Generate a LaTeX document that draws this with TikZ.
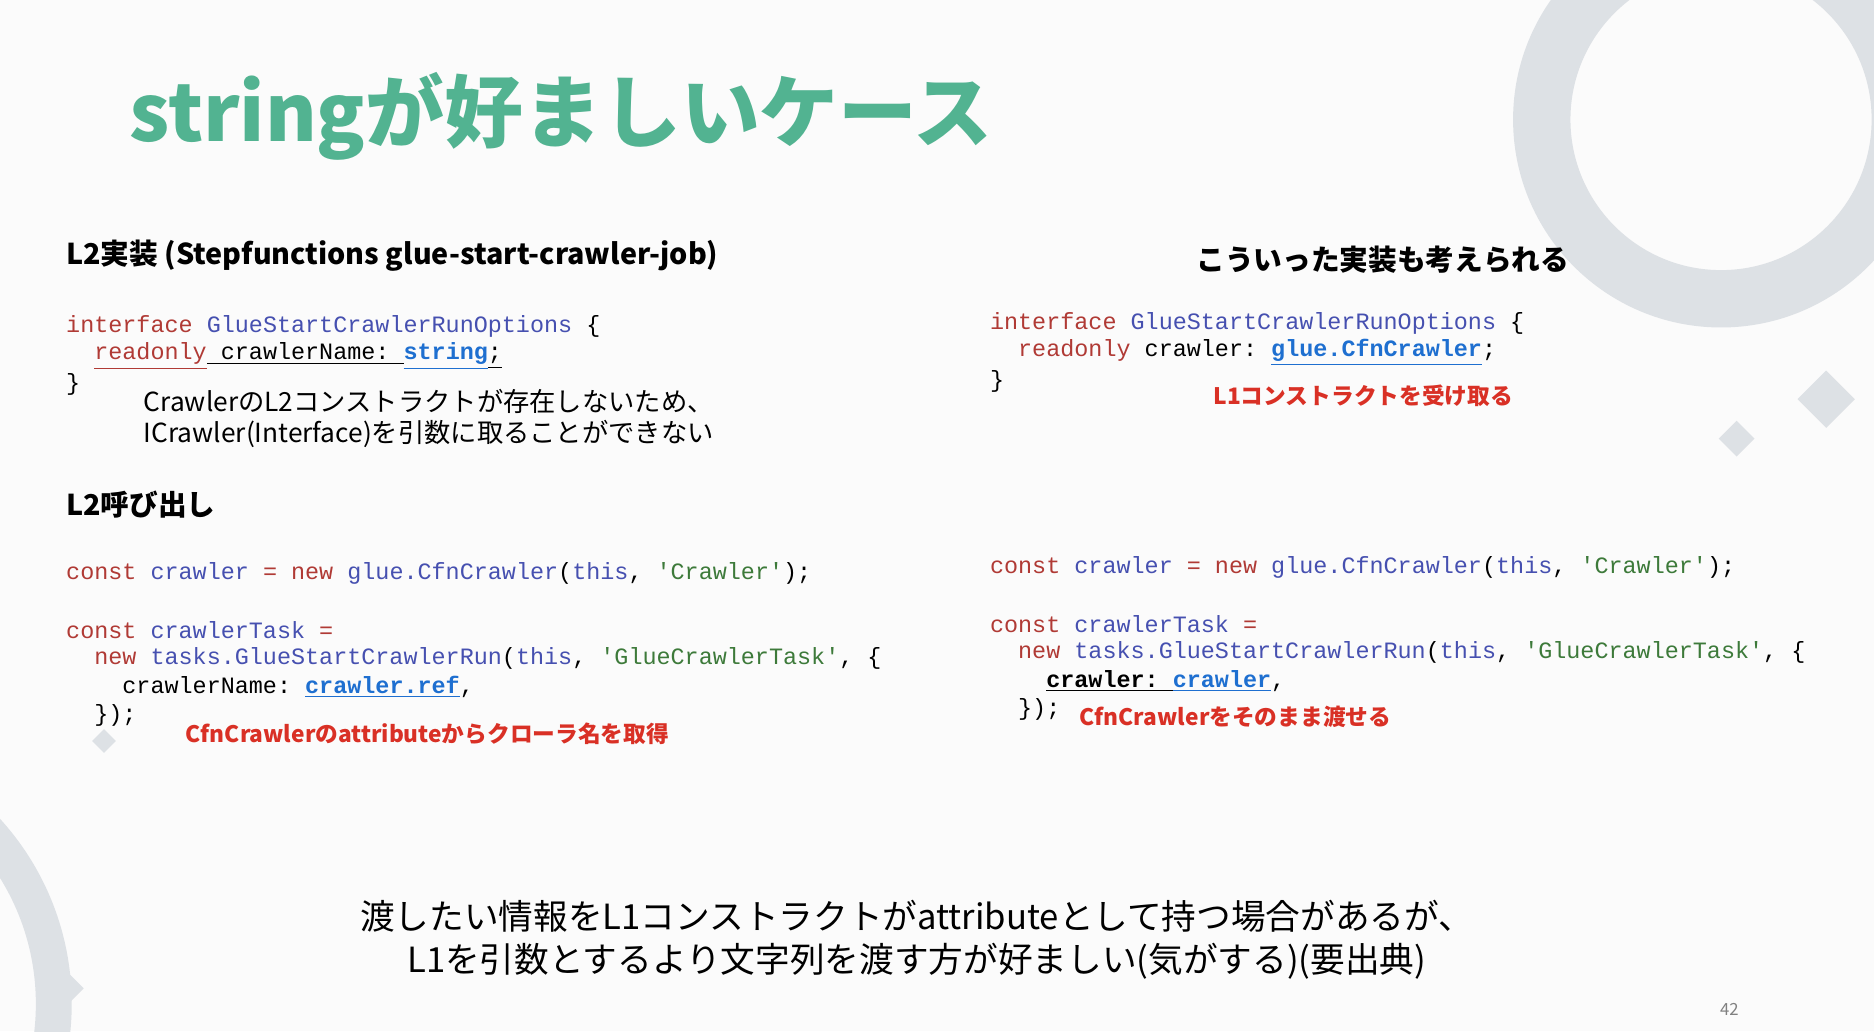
\documentclass[tikz,border=0pt]{standalone}
\usepackage{fontspec}
\setmainfont{Noto Sans CJK JP}
\setmonofont{Liberation Mono}
\definecolor{kw}{HTML}{B03A35}
\definecolor{id}{HTML}{4650B0}
\definecolor{st}{HTML}{3D7A3A}
\definecolor{lk}{HTML}{1E6FD0}
\definecolor{teal}{HTML}{52B391}
\definecolor{deco}{HTML}{DDE1E5}
\definecolor{note}{HTML}{D93025}
\newcommand{\K}[1]{\textcolor{kw}{#1}}
\newcommand{\I}[1]{\textcolor{id}{#1}}
\newcommand{\St}[1]{\textcolor{st}{#1}}
\newcommand{\Lk}[1]{\textcolor{lk}{\underline{\textbf{#1}}}}
\tikzset{code/.style={anchor=west,font=\ttfamily\fontsize{9.8}{12}\selectfont,inner sep=0},
 head/.style={anchor=west,font=\bfseries\fontsize{12}{14}\selectfont,inner sep=0},
 red/.style={anchor=west,font=\bfseries\fontsize{9.5}{12}\selectfont,text=note,inner sep=0},
 body/.style={anchor=west,font=\fontsize{11}{13}\selectfont,inner sep=0}}
\begin{document}
\begin{tikzpicture}[x=0.5pt,y=-0.5pt]
\fill[white!97!gray] (0,0) rectangle (1568,863);
\useasboundingbox (0,0) rectangle (1568,863);
% decorations
\begin{scope}
\clip (0,0) rectangle (1568,863);
\draw[deco,line width=24pt] (1440,100) circle (150);
\draw[deco,line width=15pt] (-170,840) circle (215);
\end{scope}
\fill[deco] (1528,310) -- (1552,334) -- (1528,358) -- (1504,334) -- cycle;
\fill[deco] (1453,352) -- (1468,367) -- (1453,382) -- (1438,367) -- cycle;
\fill[deco] (55,812) -- (70,827) -- (55,842) -- (40,827) -- cycle;
\fill[deco] (87,610) -- (97,620) -- (87,630) -- (77,620) -- cycle;
% title
\node[anchor=west,inner sep=0,text=teal,font=\bfseries\fontsize{33}{38}\selectfont] (title) at (108,97) {stringが好ましいケース};
% left
\node[head] (h1) at (55,214) {L2実装 (Stepfunctions glue-start-crawler-job)};
\node[code] (c1) at (55,273) {\K{interface} \I{GlueStartCrawlerRunOptions} \{};
\node[code] (c2) at (55,298) {\ \ \textcolor{kw}{\underline{readonly}}\underline{ crawlerName: }\Lk{string}\underline{;}};
\node[code] (c3) at (55,322) {\}};
\node[body] (t1) at (120,336) {CrawlerのL2コンストラクトが存在しないため、};
\node[body] (t2) at (120,363) {ICrawler(Interface)を引数に取ることができない};
\node[head] (h2) at (55,422) {L2呼び出し};
\node[code] (c4) at (55,480) {\K{const} \I{crawler} \K{=} \K{new} \I{glue.CfnCrawler}(\I{this}, \St{'Crawler'});};
\node[code] (c5) at (55,527) {\K{const} \I{crawlerTask} \K{=}};
\node[code] (c6) at (55,551) {\ \ \K{new} \I{tasks.GlueStartCrawlerRun}(\I{this}, \St{'GlueCrawlerTask'}, \{};
\node[code] (c7) at (55,575) {\ \ \ \ crawlerName: \Lk{crawler.ref},};
\node[code] (c8) at (55,599) {\ \ \});};
\node[red] (r1) at (155,614) {CfnCrawlerのattributeからクローラ名を取得};
% right
\node[head,anchor=center] (h3) at (1157,217) {こういった実装も考えられる};
\node[code] (d1) at (828,271) {\K{interface} \I{GlueStartCrawlerRunOptions} \{};
\node[code] (d2) at (828,295) {\ \ \K{readonly} crawler: \Lk{glue.CfnCrawler};};
\node[code] (d3) at (828,319) {\}};
\node[red] (r2) at (1015,331) {L1コンストラクトを受け取る};
\node[code] (d4) at (828,475) {\K{const} \I{crawler} \K{=} \K{new} \I{glue.CfnCrawler}(\I{this}, \St{'Crawler'});};
\node[code] (d5) at (828,522) {\K{const} \I{crawlerTask} \K{=}};
\node[code] (d6) at (828,546) {\ \ \K{new} \I{tasks.GlueStartCrawlerRun}(\I{this}, \St{'GlueCrawlerTask'}, \{};
\node[code] (d7) at (828,570) {\ \ \ \ \textbf{\underline{crawler:}}\underline{ }\Lk{crawler},};
\node[code] (d8) at (828,594) {\ \ \});};
\node[red] (r3) at (903,600) {CfnCrawlerをそのまま渡せる};
% bottom
\node[align=center,inner sep=0,font=\fontsize{14.5}{18}\selectfont] (b) at (767,786) {渡したい情報をL1コンストラクトがattributeとして持つ場合があるが、\\L1を引数とするより文字列を渡す方が好ましい(気がする)(要出典)};
\node[inner sep=0,text=gray,font=\fontsize{7}{8}\selectfont] (pg) at (1447,845) {42};
\end{tikzpicture}
\end{document}
